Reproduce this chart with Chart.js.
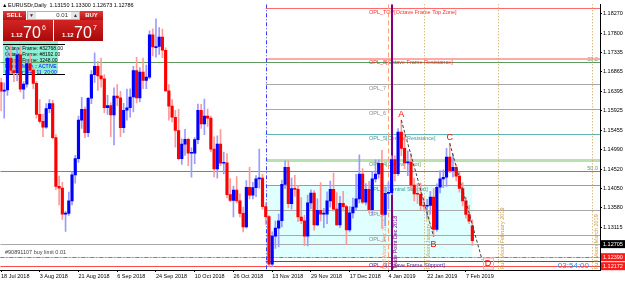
<!DOCTYPE html>
<html>
<head>
<meta charset="utf-8">
<script src="https://cdn.jsdelivr.net/npm/chart.js@4.4.0/dist/chart.umd.min.js"></script>
<style>
  html, body { margin: 0; padding: 0; background: #fff; }
  canvas { display: block; }
</style>
</head>
<body>
<canvas id="chart" width="625" height="283"></canvas>
<script>
// EURUSD daily, 18 Jul 2018 .. 11 Feb 2019 (bar index 0..146)
const opens = [
  1.1661,1.1640,1.1643,1.1720,1.1690,1.1685,1.1728,1.1645,1.1657,1.1707,
  1.1691,1.1659,1.1584,1.1567,1.1553,1.1598,1.1610,1.1528,1.1410,1.1406,
  1.1343,1.1345,1.1375,1.1438,1.1477,1.1570,1.1596,1.1540,1.1623,1.1680,
  1.1700,1.1677,1.1670,1.1600,1.1605,1.1583,1.1628,1.1624,1.1552,1.1594,
  1.1600,1.1626,1.1690,1.1624,1.1686,1.1666,1.1674,1.1776,1.1745,1.1748,
  1.1771,1.1739,1.1641,1.1604,1.1577,1.1545,1.1477,1.1512,1.1524,1.1490,
  1.1490,1.1523,1.1594,1.1561,1.1580,1.1575,1.1500,1.1452,1.1512,1.1466,
  1.1467,1.1390,1.1376,1.1401,1.1375,1.1345,1.1312,1.1408,1.1389,1.1407,
  1.1428,1.1430,1.1361,1.1337,1.1222,1.1290,1.1309,1.1327,1.1415,1.1456,
  1.1368,1.1405,1.1403,1.1336,1.1327,1.1290,1.1370,1.1394,1.1317,1.1352,
  1.1343,1.1343,1.1375,1.1403,1.1355,1.1317,1.1369,1.1361,1.1305,1.1346,
  1.1360,1.1380,1.1440,1.1372,1.1403,1.1354,1.1428,1.1440,1.1466,1.1342,
  1.1393,1.1395,1.1475,1.1441,1.1541,1.1502,1.1467,1.1469,1.1413,1.1392,
  1.1391,1.1364,1.1362,1.1364,1.1384,1.1306,1.1408,1.1428,1.1432,1.1481,
  1.1448,1.1456,1.1435,1.1405,1.1375,1.1342,1.1315
];
const highs = [
  1.1671,1.1660,1.1740,1.1750,1.1718,1.1745,1.1747,1.1663,1.1715,1.1730,
  1.1698,1.1664,1.1620,1.1585,1.1610,1.1620,1.1618,1.1535,1.1435,1.1420,
  1.1350,1.1396,1.1445,1.1485,1.1580,1.1625,1.1602,1.1625,1.1690,1.1733,
  1.1712,1.1720,1.1680,1.1630,1.1612,1.1648,1.1656,1.1640,1.1611,1.1645,
  1.1646,1.1700,1.1722,1.1697,1.1720,1.1703,1.1786,1.1791,1.1815,1.1794,
  1.1790,1.1745,1.1656,1.1620,1.1594,1.1596,1.1525,1.1548,1.1527,1.1503,
  1.1528,1.1609,1.1608,1.1621,1.1597,1.1580,1.1530,1.1532,1.1547,1.1493,
  1.1489,1.1429,1.1411,1.1434,1.1392,1.1360,1.1424,1.1456,1.1420,1.1436,
  1.1500,1.1440,1.1370,1.1340,1.1300,1.1326,1.1343,1.1425,1.1472,1.1472,
  1.1430,1.1437,1.1412,1.1383,1.1340,1.1389,1.1402,1.1400,1.1380,1.1419,
  1.1357,1.1397,1.1423,1.1442,1.1395,1.1386,1.1398,1.1365,1.1361,1.1382,
  1.1439,1.1486,1.1453,1.1417,1.1422,1.1445,1.1474,1.1474,1.1497,1.1409,
  1.1420,1.1484,1.1484,1.1550,1.1570,1.1537,1.1496,1.1489,1.1430,1.1417,
  1.1418,1.1381,1.1379,1.1398,1.1405,1.1416,1.1448,1.1450,1.1502,1.1514,
  1.1488,1.1463,1.1444,1.1419,1.1384,1.1364,1.1330
];
const lows = [
  1.1593,1.1575,1.1630,1.1685,1.1663,1.1665,1.1638,1.1622,1.1650,1.1687,
  1.1646,1.1575,1.1563,1.1530,1.1550,1.1588,1.1525,1.1402,1.1365,1.1330,
  1.1301,1.1340,1.1365,1.1418,1.1468,1.1550,1.1528,1.1530,1.1610,1.1661,
  1.1642,1.1650,1.1588,1.1584,1.1530,1.1510,1.1605,1.1530,1.1540,1.1570,
  1.1577,1.1590,1.1612,1.1614,1.1646,1.1646,1.1670,1.1725,1.1722,1.1729,
  1.1721,1.1640,1.1570,1.1566,1.1505,1.1474,1.1463,1.1485,1.1460,1.1432,
  1.1465,1.1513,1.1550,1.1535,1.1555,1.1494,1.1433,1.1430,1.1460,1.1440,
  1.1382,1.1373,1.1336,1.1370,1.1336,1.1300,1.1309,1.1380,1.1380,1.1385,
  1.1406,1.1355,1.1318,1.1216,1.1216,1.1260,1.1264,1.1312,1.1405,1.1358,
  1.1355,1.1386,1.1325,1.1320,1.1267,1.1266,1.1356,1.1304,1.1315,1.1326,
  1.1310,1.1320,1.1360,1.1350,1.1316,1.1310,1.1350,1.1269,1.1300,1.1333,
  1.1352,1.1370,1.1368,1.1365,1.1346,1.1341,1.1420,1.1430,1.1309,1.1315,
  1.1356,1.1390,1.1423,1.1436,1.1484,1.1453,1.1436,1.1402,1.1375,1.1369,
  1.1353,1.1351,1.1335,1.1343,1.1289,1.1302,1.1394,1.1407,1.1410,1.1443,
  1.1433,1.1423,1.1396,1.1363,1.1333,1.1320,1.1267
];
const closes = [
  1.1640,1.1643,1.1720,1.1690,1.1685,1.1728,1.1645,1.1657,1.1707,1.1691,
  1.1659,1.1584,1.1567,1.1553,1.1598,1.1610,1.1528,1.1410,1.1406,1.1343,
  1.1345,1.1375,1.1438,1.1477,1.1570,1.1596,1.1540,1.1623,1.1680,1.1700,
  1.1677,1.1670,1.1600,1.1605,1.1583,1.1628,1.1624,1.1552,1.1594,1.1600,
  1.1626,1.1690,1.1624,1.1686,1.1666,1.1674,1.1776,1.1747,1.1748,1.1771,
  1.1739,1.1641,1.1604,1.1577,1.1545,1.1477,1.1512,1.1524,1.1490,1.1490,
  1.1523,1.1594,1.1561,1.1580,1.1575,1.1500,1.1452,1.1512,1.1466,1.1467,
  1.1390,1.1376,1.1401,1.1375,1.1345,1.1312,1.1408,1.1389,1.1407,1.1428,
  1.1430,1.1361,1.1337,1.1222,1.1290,1.1309,1.1327,1.1415,1.1456,1.1368,
  1.1405,1.1403,1.1336,1.1327,1.1290,1.1370,1.1394,1.1317,1.1352,1.1343,
  1.1343,1.1375,1.1403,1.1355,1.1317,1.1369,1.1361,1.1305,1.1346,1.1360,
  1.1380,1.1440,1.1372,1.1403,1.1354,1.1428,1.1440,1.1466,1.1342,1.1393,
  1.1395,1.1475,1.1441,1.1541,1.1502,1.1467,1.1469,1.1413,1.1392,1.1391,
  1.1364,1.1362,1.1364,1.1384,1.1306,1.1408,1.1428,1.1432,1.1481,1.1448,
  1.1456,1.1435,1.1405,1.1375,1.1342,1.1326,1.1279
];

// time axis labels (every 12 bars)
const dateTicks = [0, 12, 24, 36, 48, 60, 72, 84, 96, 108, 120, 132, 144];
const dateLabels = ['18 Jul 2018', '3 Aug 2018', '21 Aug 2018', '6 Sep 2018', '24 Sep 2018', '10 Oct 2018',
  '26 Oct 2018', '13 Nov 2018', '29 Nov 2018', '17 Dec 2018', '4 Jan 2019', '22 Jan 2019', '7 Feb 2019'];

// price axis labels
const priceTicks = [1.18270, 1.17800, 1.17335, 1.16865, 1.16395, 1.15925, 1.15455, 1.14990,
  1.14520, 1.14050, 1.13580, 1.13115];

// Murrey math levels
const oplNames = ['OPL_TOP[Octave Frame Top Zone]', 'OPL_8[Octave Frame Resistance]', 'OPL_7', 'OPL_6',
  'OPL_5[Central Resistance]', 'OPL_4[Central Pivot]', 'OPL_3[Central Support]', 'OPL_2', 'OPL_1',
  'OPL_0[Octave Frame Support]'];
const oplPrices = [1.18408, 1.17188, 1.16577, 1.15967, 1.15356, 1.14746, 1.14136, 1.13525, 1.12915, 1.12305];
const oplStartBar = 82;

// fibo levels across the whole chart
const fiboNames = ['38.2', '50.0'];
const fiboPrices = [1.17097, 1.14481];

// price lines with boxes on the axis
const bidPrice = 1.12705;
const orderPrice = 1.12390;
const alertPrice = 1.12172;
const orderText = '#90891107 buy limit 0.01';

// zone rectangle
const zoneBars = [82, 146];
const zonePrices = [1.14136, 1.12390];

// vertical lines
const vlineBars = [82, 120, 121, 131, 154, 183];
const vlineTexts = ['', 'Half Moon Dec 2018', 'Trade Point Dec 2018', 'Full Moon January 2019',
  'Full Moon February 2019', 'Full Moon March 2019'];

// ABCD pattern
const abcdNames = ['A', 'B', 'C', 'D'];
const abcdBars = [124, 134, 139, 149];
const abcdPrices = [1.1570, 1.1289, 1.1514, 1.1233];

const titleText = 'EURUSDr,Daily  1.13150 1.13300 1.12673 1.12786';
const timerText = '03:54:00';
const infoLines = ['Octave Frame: #32768.00', 'Octave Frame: #8192.00', 'Octave Frame: 3248.00',
  'Murrey Math :: ACTIVE', 'Last Bar: Feb 11, 20:00'];

const FONT = "'Liberation Sans', Arial, sans-serif";

function bull(i) { return closes[i] >= opens[i]; }

const overlay = {
  id: 'overlay',
  beforeDatasetsDraw(chart) {
    const { ctx, chartArea: a, scales: { x, y } } = chart;
    ctx.save();
    ctx.beginPath();
    ctx.rect(a.left, a.top, a.right - a.left, a.bottom - a.top);
    ctx.clip();

    // zone
    const zx0 = x.getPixelForValue(zoneBars[0]), zx1 = x.getPixelForValue(zoneBars[1]);
    const zy0 = y.getPixelForValue(zonePrices[0]), zy1 = y.getPixelForValue(zonePrices[1]);
    ctx.fillStyle = '#e0ffff';
    ctx.fillRect(zx0, zy0, zx1 - zx0, zy1 - zy0);

    // info box top-left
    ctx.fillStyle = 'rgba(120,238,205,0.85)';
    ctx.fillRect(3, 41, 55, 32);
    ctx.strokeStyle = '#000';
    ctx.lineWidth = 1;
    ctx.beginPath();
    ctx.moveTo(3, 44.5); ctx.lineTo(65, 44.5);
    ctx.moveTo(3, 74.5); ctx.lineTo(65, 74.5);
    ctx.stroke();
    ctx.font = '5px ' + FONT;
    ctx.textBaseline = 'middle';
    ctx.textAlign = 'left';
    infoLines.forEach((t, i) => {
      ctx.fillStyle = i < 3 ? '#000' : '#0000ff';
      ctx.fillText(t, 5, 49 + i * 6);
    });

    function hline(price, x0, color, width, dash) {
      const py = Math.round(y.getPixelForValue(price)) + (width % 2 ? 0.5 : 0);
      ctx.strokeStyle = color;
      ctx.lineWidth = width;
      ctx.setLineDash(dash || []);
      ctx.beginPath();
      ctx.moveTo(x0, py);
      ctx.lineTo(a.right, py);
      ctx.stroke();
      ctx.setLineDash([]);
      return py;
    }

    // full width lines
    const fiboColor = '#5f9a5f';
    fiboPrices.forEach((p, i) => {
      const py = hline(p, a.left, fiboColor, 1);
      ctx.fillStyle = fiboColor;
      ctx.font = '5.5px ' + FONT;
      ctx.textAlign = 'right';
      ctx.textBaseline = 'bottom';
      ctx.fillText(fiboNames[i], a.right - 2, py);
    });
    hline(bidPrice, a.left, '#a8a8a8', 1);
    hline(orderPrice, a.left, '#ffb4b4', 1);
    hline(orderPrice, a.left, '#8a8a30', 1, [4, 2, 1, 2]);
    hline(alertPrice, a.left, '#ff4a4a', 1);
    ctx.fillStyle = '#404040';
    ctx.font = '5.5px ' + FONT;
    ctx.textAlign = 'left';
    ctx.textBaseline = 'bottom';
    ctx.fillText(orderText, 5, y.getPixelForValue(orderPrice) - 2);

    // murrey levels
    const oplColors = ['#ff6a6a', '#ffaaaa', '#a8a8a8', '#a8a8a8', '#5fb5b5', '#b8e0b0', '#5fb5b5', '#a8a8a8', '#a8a8a8', '#4a4ab8'];
    const oplWidths = [1, 2, 1, 1, 1, 3, 1, 1, 1, 1];
    const oplText = ['#ff2a2a', '#ff2a2a', '#8a8a8a', '#8a8a8a', '#3a9a9a', '#5a9a5a', '#3a9a9a', '#8a8a8a', '#8a8a8a', '#3030a0'];
    const ox = x.getPixelForValue(oplStartBar);
    oplPrices.forEach((p, i) => {
      const py = hline(p, ox, oplColors[i], oplWidths[i]);
      ctx.fillStyle = oplText[i];
      ctx.font = '5.5px ' + FONT;
      ctx.textAlign = 'left';
      ctx.textBaseline = 'top';
      ctx.fillText(oplNames[i], 369, py + 1);
    });

    // vertical lines
    const vColors = ['#3c3cff', '#ffa07a', '#800080', '#c8a050', '#c8a050', '#c8a050'];
    const vDash = [[4, 2, 1, 2], [5, 3], [], [1, 2], [1, 2], [1, 2]];
    const vWidth = [1, 1, 2, 1, 1, 1];
    vlineBars.forEach((b, i) => {
      const px = Math.round(x.getPixelForValue(b)) + (vWidth[i] % 2 ? 0.5 : 0);
      ctx.strokeStyle = vColors[i];
      ctx.lineWidth = vWidth[i];
      ctx.setLineDash(vDash[i]);
      ctx.beginPath();
      ctx.moveTo(px, a.top);
      ctx.lineTo(px, a.bottom);
      ctx.stroke();
      ctx.setLineDash([]);
      if (vlineTexts[i]) {
        ctx.save();
        ctx.translate(i === 1 ? px - 1 : px + 1, a.bottom - 1);
        ctx.rotate(-Math.PI / 2);
        ctx.fillStyle = i === 1 ? '#ff9a6a' : (i === 2 ? '#800080' : '#c89a40');
        ctx.font = '5.5px ' + FONT;
        ctx.textAlign = 'left';
        ctx.textBaseline = i === 1 ? 'bottom' : 'top';
        ctx.fillText(vlineTexts[i], 0, 0);
        ctx.restore();
      }
    });
    ctx.restore();
  },
  afterDatasetsDraw(chart) {
    const { ctx, chartArea: a, scales: { x, y } } = chart;
    ctx.save();
    // ABCD
    const pts = abcdBars.map((b, i) => [x.getPixelForValue(b), y.getPixelForValue(abcdPrices[i])]);
    ctx.strokeStyle = '#404040';
    ctx.lineWidth = 1;
    ctx.setLineDash([3, 2]);
    ctx.beginPath();
    ctx.moveTo(pts[0][0], pts[0][1]); ctx.lineTo(pts[1][0], pts[1][1]);
    ctx.moveTo(pts[2][0], pts[2][1]); ctx.lineTo(pts[3][0], pts[3][1]);
    ctx.stroke();
    ctx.setLineDash([]);
    ctx.fillStyle = '#ff0000';
    ctx.font = '9px ' + FONT;
    ctx.textAlign = 'center';
    const offs = [[0, -6], [0, 8], [0, -6], [6, 4]];
    pts.forEach((p, i) => {
      ctx.textBaseline = 'middle';
      ctx.fillText(abcdNames[i], p[0] + offs[i][0], p[1] + offs[i][1]);
    });
    ctx.strokeStyle = '#ffaaaa';
    ctx.strokeRect(pts[3][0] + 1.5, pts[3][1] - 1.5, 10, 11);

    // timer
    ctx.fillStyle = '#1e90ff';
    ctx.font = '8px ' + FONT;
    ctx.textAlign = 'right';
    ctx.textBaseline = 'middle';
    ctx.fillText(timerText, 589, 266);
    ctx.restore();
  },
  afterDraw(chart) {
    const { ctx, chartArea: a, scales: { y } } = chart;
    ctx.save();
    // price boxes on axis
    function box(price, bg) {
      const py = y.getPixelForValue(price);
      ctx.fillStyle = bg;
      ctx.fillRect(a.right + 1, py - 4, 24, 8);
      ctx.fillStyle = '#fff';
      ctx.font = '5.5px ' + FONT;
      ctx.textAlign = 'left';
      ctx.textBaseline = 'middle';
      ctx.fillText(price.toFixed(5), a.right + 3, py);
    }
    box(bidPrice, '#000');
    box(orderPrice, '#ff1a1a');
    box(alertPrice, '#ff1a1a');

    // title
    ctx.fillStyle = '#000';
    ctx.font = '5.5px ' + FONT;
    ctx.textAlign = 'left';
    ctx.textBaseline = 'middle';
    ctx.fillText('\u25B2', 2, 5);
    ctx.fillText(titleText, 8, 5);

    // one click trading panel
    const red = ctx.createLinearGradient(0, 11, 0, 20);
    red.addColorStop(0, '#e03a3a'); red.addColorStop(1, '#b81010');
    ctx.fillStyle = red;
    ctx.fillRect(3, 11, 23, 9);
    ctx.fillRect(80, 11, 23, 9);
    ctx.fillStyle = '#e6e6e6';
    ctx.fillRect(27, 11, 9, 9);
    ctx.fillRect(71, 11, 9, 9);
    ctx.fillStyle = '#fff';
    ctx.fillRect(36, 11, 35, 9);
    ctx.strokeStyle = '#b0b0b0';
    ctx.lineWidth = 1;
    ctx.strokeRect(27.5, 11.5, 52, 8);
    ctx.font = 'bold 6px ' + FONT;
    ctx.textAlign = 'center';
    ctx.fillStyle = '#fff';
    ctx.fillText('SELL', 14.5, 15.5);
    ctx.fillText('BUY', 91.5, 15.5);
    ctx.fillStyle = '#333';
    ctx.font = '5px ' + FONT;
    ctx.fillText('\u25BC', 31.5, 15.5);
    ctx.fillText('\u25B2', 75.5, 15.5);
    ctx.textAlign = 'right';
    ctx.font = '6px ' + FONT;
    ctx.fillText('0.01', 68, 15.5);

    const dark = ctx.createLinearGradient(0, 20, 0, 41);
    dark.addColorStop(0, '#d42424'); dark.addColorStop(1, '#a80808');
    ctx.fillStyle = dark;
    ctx.fillRect(3, 20, 50, 21);
    ctx.fillRect(54, 20, 49, 21);
    ctx.fillStyle = '#fff';
    ctx.textAlign = 'left';
    ctx.textBaseline = 'alphabetic';
    [[3, '6'], [54, '7']].forEach(([bx, sup]) => {
      ctx.font = 'bold 6px ' + FONT;
      ctx.fillText('1.12', bx + 8, 37);
      ctx.font = '16px ' + FONT;
      ctx.fillText('70', bx + 20, 38);
      ctx.font = '7px ' + FONT;
      ctx.fillText(sup, bx + 39, 30);
    });
    ctx.restore();
  }
};

const ctx = document.getElementById('chart').getContext('2d');
new Chart(ctx, {
  type: 'bar',
  data: {
    datasets: [
      {
        label: 'wick',
        data: lows.map((l, i) => ({ x: i, y: [l, highs[i]] })),
        backgroundColor: lows.map((l, i) => bull(i) ? '#9a9aff' : '#ff9a9a'),
        barThickness: 1,
        grouped: false,
        order: 2
      },
      {
        label: 'body',
        data: opens.map((o, i) => ({ x: i, y: [o, closes[i]] })),
        backgroundColor: opens.map((o, i) => bull(i) ? '#0000ff' : '#ff0000'),
        barThickness: 2.5,
        minBarLength: 1,
        grouped: false,
        order: 1
      }
    ]
  },
  options: {
    responsive: false,
    animation: false,
    devicePixelRatio: 1,
    layout: { padding: 0 },
    plugins: { legend: { display: false }, tooltip: { enabled: false } },
    scales: {
      x: {
        type: 'linear',
        min: -0.22,
        max: 185.54,
        offset: false,
        grid: { drawOnChartArea: false, offset: false, tickLength: 2, color: '#000' },
        border: { color: '#000' },
        ticks: {
          autoSkip: false,
          maxRotation: 0,
          align: 'start',
          padding: 1,
          color: '#000',
          font: { family: FONT, size: 5.5 },
          callback: v => {
            const k = dateTicks.indexOf(v);
            return k >= 0 ? dateLabels[k] : '';
          }
        },
        afterBuildTicks: s => { s.ticks = dateTicks.map(v => ({ value: v })); },
        afterFit: s => { s.height = 13; }
      },
      y: {
        position: 'right',
        min: 1.1208,
        max: 1.1850,
        grid: { drawOnChartArea: false, tickLength: 2, color: '#000' },
        border: { color: '#000' },
        ticks: {
          padding: 1,
          color: '#000',
          font: { family: FONT, size: 5.5 },
          callback: v => v.toFixed(5)
        },
        afterBuildTicks: s => { s.ticks = priceTicks.map(v => ({ value: v })); },
        afterFit: s => { s.width = 25; }
      }
    }
  },
  plugins: [overlay]
});
</script>
</body>
</html>
